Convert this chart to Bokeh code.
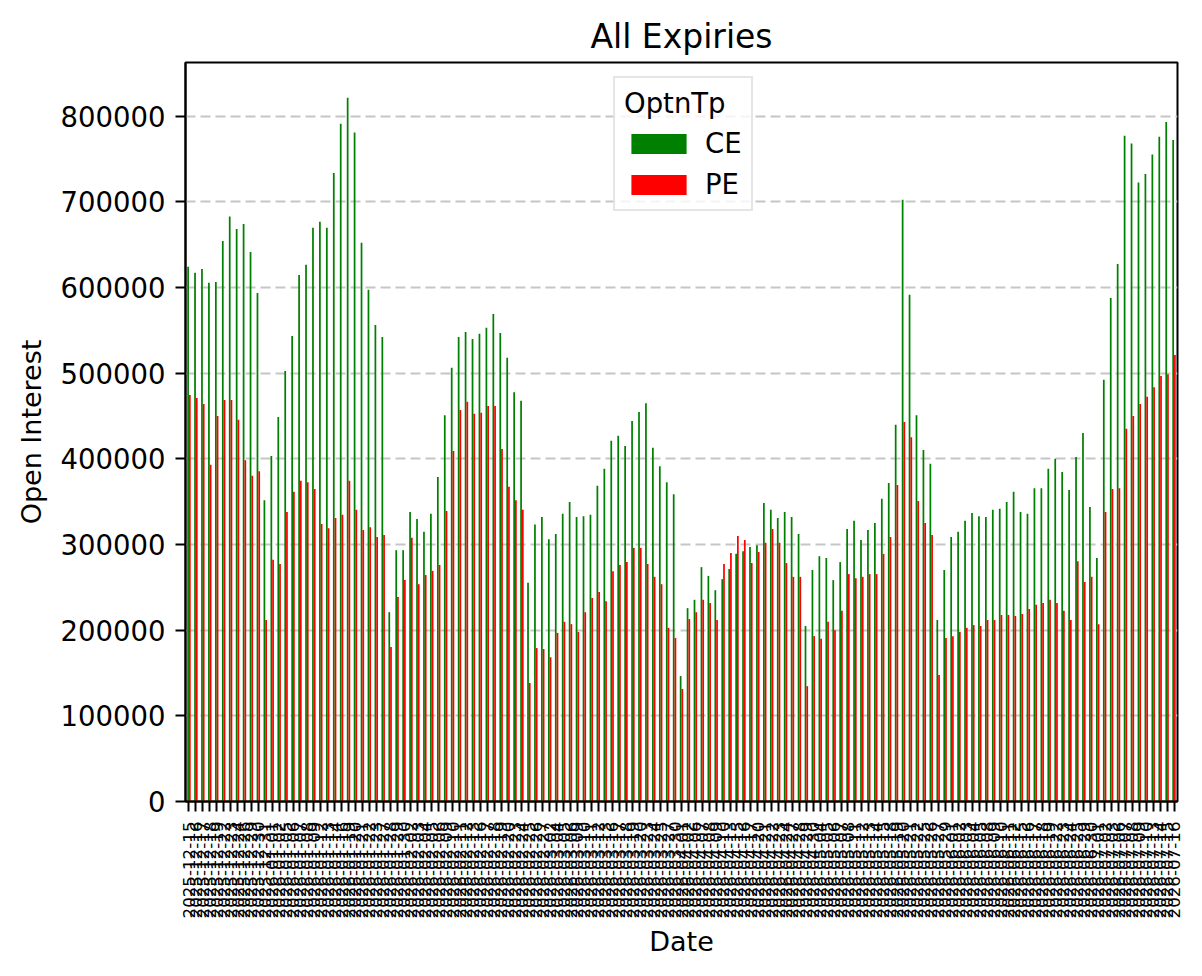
import numpy as np
from bokeh.plotting import figure
from bokeh.models import (Range1d, FixedTicker, NumeralTickFormatter, Legend,
                          LegendItem, ColumnDataSource)
from bokeh.embed import file_html
from bokeh.resources import INLINE

# ---------------- data ----------------
dates = [
    "2025-12-15", "2025-12-16", "2025-12-17", "2025-12-18", "2025-12-19",
    "2025-12-22", "2025-12-23", "2025-12-24", "2025-12-26", "2025-12-29",
    "2025-12-30", "2025-12-31",
    "2026-01-01", "2026-01-02", "2026-01-05", "2026-01-06", "2026-01-07",
    "2026-01-08", "2026-01-09", "2026-01-12", "2026-01-13", "2026-01-14",
    "2026-01-16", "2026-01-19", "2026-01-20", "2026-01-21", "2026-01-22",
    "2026-01-23", "2026-01-27", "2026-01-28", "2026-01-29", "2026-01-30",
    "2026-02-02", "2026-02-03", "2026-02-04", "2026-02-05", "2026-02-06",
    "2026-02-09", "2026-02-10", "2026-02-11", "2026-02-12", "2026-02-13",
    "2026-02-16", "2026-02-17", "2026-02-18", "2026-02-19", "2026-02-20",
    "2026-02-23", "2026-02-24", "2026-02-25", "2026-02-26", "2026-02-27",
    "2026-03-02", "2026-03-04", "2026-03-05", "2026-03-06", "2026-03-09",
    "2026-03-10", "2026-03-11", "2026-03-12", "2026-03-13", "2026-03-16",
    "2026-03-17", "2026-03-18", "2026-03-19", "2026-03-20", "2026-03-23",
    "2026-03-24", "2026-03-25", "2026-03-27", "2026-03-30",
    "2026-04-01", "2026-04-02", "2026-04-06", "2026-04-07", "2026-04-08",
    "2026-04-09", "2026-04-10", "2026-04-13", "2026-04-15", "2026-04-16",
    "2026-04-17", "2026-04-20", "2026-04-21", "2026-04-22", "2026-04-23",
    "2026-04-24", "2026-04-27", "2026-04-28", "2026-04-29", "2026-04-30",
    "2026-05-04", "2026-05-05", "2026-05-06", "2026-05-07", "2026-05-08",
    "2026-05-11", "2026-05-12", "2026-05-13", "2026-05-14", "2026-05-15",
    "2026-05-18", "2026-05-19", "2026-05-20", "2026-05-21", "2026-05-22",
    "2026-05-25", "2026-05-26", "2026-05-27", "2026-05-29",
    "2026-06-01", "2026-06-02", "2026-06-03", "2026-06-04", "2026-06-05",
    "2026-06-08", "2026-06-09", "2026-06-10", "2026-06-11", "2026-06-12",
    "2026-06-15", "2026-06-16", "2026-06-17", "2026-06-18", "2026-06-19",
    "2026-06-22", "2026-06-23", "2026-06-24", "2026-06-25", "2026-06-29",
    "2026-06-30",
    "2026-07-01", "2026-07-02", "2026-07-03", "2026-07-06", "2026-07-07",
    "2026-07-08", "2026-07-09", "2026-07-10", "2026-07-13", "2026-07-14",
    "2026-07-15", "2026-07-16",
]

ce_oi = [
    624100, 617200, 621400, 605400, 606400, 654200, 682600, 668100, 674000, 641300,
    593600, 351700, 403200, 448800, 502400, 543200, 614500, 626300, 669700, 676700,
    669700, 733500, 790900, 821400, 780700, 652000, 597300, 556000, 542100, 220900,
    293300, 293300, 337800, 329800, 314700, 335700, 378600, 450900, 506200, 542100,
    548000, 539900, 545800, 552800, 568900, 546900, 518000, 477700, 467600, 255200,
    323300, 331900, 306200, 312100, 335700, 349600, 331900, 333000, 334600, 368400,
    388200, 420900, 426800, 415000, 444000, 454700, 464900, 412900, 391400, 372700,
    358700, 146400, 225700, 235400, 273500, 263300, 246600, 259500, 271300, 289000,
    292200, 297100, 299200, 348500, 340500, 330800, 337800, 331900, 312100, 204800,
    270200, 286300, 284200, 258400, 279400, 318000, 327600, 305100, 316900, 324900,
    353400, 371600, 439700, 702400, 591400, 450900, 410200, 394100, 211800, 270200,
    308800, 314700, 327600, 336700, 333000, 331900, 340500, 341600, 349600, 361400,
    337800, 335700, 365700, 365700, 388200, 400000, 384500, 363500, 402100, 430000,
    343700, 284200, 492200, 587700, 627300, 776900, 767800, 722300, 732400, 755000,
    775900, 793000, 772100,
]

pe_oi = [
    474500, 470800, 463800, 393000, 449900, 468600, 468600, 445600, 398400, 380200,
    385500, 211800, 282000, 277200, 337800, 361400, 374300, 372700, 364600, 323900,
    319000, 330800, 334600, 374300, 340500, 316900, 320100, 308800, 311000, 180200,
    238600, 258400, 307800, 253600, 264300, 269200, 276100, 338900, 409100, 456800,
    466500, 452500, 453600, 461700, 461700, 411300, 367300, 351700, 340500, 138300,
    179100, 178000, 168400, 196800, 209700, 207000, 197900, 220900, 237500, 244500,
    233800, 268600, 276100, 279400, 296000, 296000, 277200, 262200, 253600, 202700,
    190900, 131400, 212900, 220900, 235400, 231600, 211800, 277200, 290100, 309900,
    305100, 278300, 291200, 301900, 318000, 301900, 278300, 262200, 262200, 134600,
    193000, 189800, 209700, 200000, 222500, 265400, 260600, 262200, 265400, 265400,
    289000, 308800, 369400, 442900, 425200, 350700, 324900, 311000, 147500, 190900,
    193000, 197900, 202700, 205900, 204800, 211800, 211800, 217700, 217700, 216600,
    218800, 224700, 229500, 231600, 235400, 231600, 222500, 211800, 280400, 256300,
    262200, 207000, 337800, 364600, 365700, 434900, 449900, 463800, 472400, 483600,
    496500, 498700, 521200,
]

y_ticks = [0, 100000, 200000, 300000, 400000, 500000, 600000, 700000, 800000]
series_names = ["CE", "PE"]
series_colors = ["#008000", "#ff0000"]

# ---------------- figure ----------------
FONT = "DejaVu Sans"
n = len(dates)
idx = np.arange(n)
ymax = 1.05 * max(max(ce_oi), max(pe_oi))

src = ColumnDataSource(dict(
    x_ce=idx - 0.125, x_pe=idx + 0.125, ce=ce_oi, pe=pe_oi, date=dates))

p = figure(width=1202, height=976, output_backend="svg", toolbar_location=None,
           x_range=Range1d(-0.5, n - 0.5), y_range=Range1d(0, ymax),
           title="All Expiries",
           min_border_left=185, min_border_right=25,
           min_border_top=62, min_border_bottom=175)
p.background_fill_color = "white"
p.border_fill_color = "white"
p.outline_line_color = "black"
p.outline_line_width = 2

p.title.text_font = FONT
p.title.text_font_size = "33px"
p.title.text_font_style = "normal"
p.title.align = "center"
p.title.text_color = "black"
p.title.standoff = 13

r_ce = p.vbar(x="x_ce", width=0.25, top="ce", bottom=0, source=src,
              fill_color=series_colors[0], line_color=None)
r_pe = p.vbar(x="x_pe", width=0.25, top="pe", bottom=0, source=src,
              fill_color=series_colors[1], line_color=None)

# axes
p.xaxis.ticker = FixedTicker(ticks=list(range(n)))
p.xaxis.major_label_overrides = {i: d for i, d in enumerate(dates)}
p.xaxis.major_label_orientation = np.pi / 2
p.xaxis.major_label_text_font_size = "16.7px"
p.xaxis.axis_label = "Date"

p.yaxis.ticker = FixedTicker(ticks=y_ticks)
p.yaxis.formatter = NumeralTickFormatter(format="0")
p.yaxis.major_label_text_font_size = "27.5px"
p.yaxis.axis_label = "Open Interest"
p.yaxis.axis_label_text_font_size = "27px"
p.yaxis.axis_label_standoff = 11

for ax in (p.xaxis[0], p.yaxis[0]):
    ax.major_label_text_font = FONT
    ax.major_label_text_color = "black"
    ax.axis_label_text_font = FONT
    ax.axis_label_text_font_style = "normal"
    ax.axis_label_text_color = "black"
    ax.axis_line_width = 2
    ax.axis_line_color = "black"
    ax.major_tick_line_width = 2
    ax.major_tick_line_color = "black"
    ax.major_tick_out = 10
    ax.major_tick_in = 0
    ax.minor_tick_line_color = None
    ax.major_label_standoff = 10
p.xaxis.axis_label_text_font_size = "27px"
p.xaxis.axis_label_standoff = 5

p.xgrid.visible = False
p.ygrid.grid_line_color = "#c6c6c6"
p.ygrid.grid_line_width = 2
p.ygrid.grid_line_dash = "10 5"

legend = Legend(items=[LegendItem(label=series_names[0], renderers=[r_ce]),
                       LegendItem(label=series_names[1], renderers=[r_pe])],
                title="OptnTp", location=(428, 590))
legend.title_text_font = FONT
legend.title_text_font_size = "27.5px"
legend.title_text_font_style = "normal"
legend.title_text_color = "black"
legend.title_standoff = 8
legend.label_text_font = FONT
legend.label_text_font_size = "27.5px"
legend.label_text_color = "black"
legend.glyph_width = 69
legend.glyph_height = 25
legend.label_standoff = 12
legend.padding = 9
legend.spacing = 9
legend.margin = 0
legend.border_line_color = "#cccccc"
legend.border_line_width = 2
legend.background_fill_alpha = 0.8
p.add_layout(legend)

open("out.html", "w").write(file_html(p, INLINE))
